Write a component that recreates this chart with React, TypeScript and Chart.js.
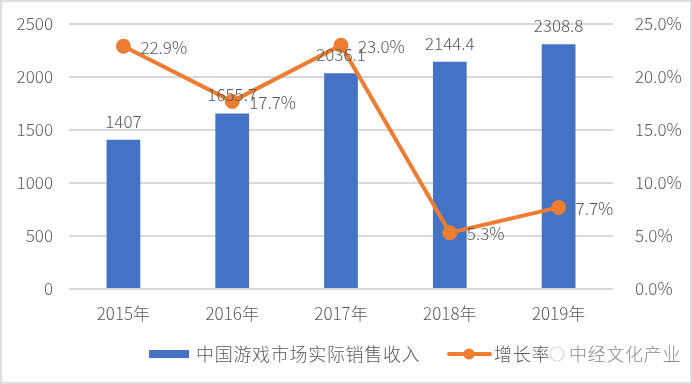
import React, { useEffect, useRef } from "react";
import { Chart, registerables } from "chart.js";

Chart.register(...registerables);

const categories = ["2015年", "2016年", "2017年", "2018年", "2019年"];
const revenue = [1407, 1655.7, 2036.1, 2144.4, 2308.8];
const growth = [22.9, 17.7, 23.0, 5.3, 7.7];
const revenueLabel = "中国游戏市场实际销售收入";
const growthLabel = "增长率";
const watermark = "中经文化产业";

const FONT = "'Noto Sans CJK SC', 'Noto Sans', sans-serif";
const TEXT = "#595959";
const BLUE = "#4472C4";
const ORANGE = "#ED7D31";
const CLEAR = "rgba(0,0,0,0)";

const customPlugin = {
  id: "custom",
  beforeDraw(chart: any) {
    const { ctx, width, height } = chart;
    ctx.save();
    ctx.fillStyle = "#ffffff";
    ctx.fillRect(0, 0, width, height);
    ctx.strokeStyle = "#dedede";
    ctx.lineWidth = 2;
    ctx.strokeRect(1, 1, width - 2, height - 2);
    ctx.restore();
  },
  afterDatasetsDraw(chart: any) {
    const { ctx } = chart;
    ctx.save();
    ctx.font = `300 17px ${FONT}`;
    ctx.fillStyle = TEXT;
    const barMeta = chart.getDatasetMeta(0);
    barMeta.data.forEach((el: any, i: number) => {
      ctx.textAlign = "center";
      ctx.textBaseline = "bottom";
      ctx.fillText(String(revenue[i]), el.x, el.y - 10);
    });
    const lineMeta = chart.getDatasetMeta(1);
    lineMeta.data.forEach((el: any, i: number) => {
      ctx.textAlign = "left";
      ctx.textBaseline = "middle";
      ctx.fillText(growth[i].toFixed(1) + "%", el.x + 17, el.y + 1);
    });
    ctx.restore();
  },
  afterDraw(chart: any) {
    const { ctx } = chart;
    const ds = chart.data.datasets;
    const y = 354;
    ctx.save();
    ctx.font = `300 18px ${FONT}`;
    (ctx as any).letterSpacing = "0.7px";
    ctx.textBaseline = "middle";
    ctx.textAlign = "left";
    ctx.fillStyle = ds[0].backgroundColor;
    ctx.fillRect(149, y - 4, 40, 8);
    ctx.fillStyle = TEXT;
    ctx.fillText(ds[0].label, 196, y);
    ctx.strokeStyle = ds[1].borderColor;
    ctx.lineWidth = 4;
    ctx.lineCap = "round";
    ctx.beginPath();
    ctx.moveTo(449, y);
    ctx.lineTo(490, y);
    ctx.stroke();
    ctx.fillStyle = ds[1].borderColor;
    ctx.beginPath();
    ctx.arc(469, y, 5.5, 0, Math.PI * 2);
    ctx.fill();
    ctx.fillStyle = TEXT;
    ctx.fillText(ds[1].label, 494, y);
    ctx.strokeStyle = "#d6d6d6";
    ctx.lineWidth = 1.2;
    ctx.beginPath();
    ctx.arc(557, y, 7, 0, Math.PI * 2);
    ctx.stroke();
    ctx.fillStyle = "#8a8a8a";
    ctx.fillText(watermark, 569, y);
    ctx.restore();
  },
};

export default function App() {
  const ref = useRef<HTMLCanvasElement>(null);
  useEffect(() => {
    document.body.style.margin = "0";
    const tickFont = { size: 17, family: FONT, weight: "300" as any };
    const chart = new Chart(ref.current!, {
      type: "bar",
      data: {
        labels: categories,
        datasets: [
          {
            type: "bar",
            label: revenueLabel,
            data: revenue,
            backgroundColor: BLUE,
            yAxisID: "y",
            barPercentage: 0.62,
            categoryPercentage: 0.5,
            order: 2,
          },
          {
            type: "line",
            label: growthLabel,
            data: growth,
            borderColor: ORANGE,
            backgroundColor: ORANGE,
            borderWidth: 4,
            pointRadius: 5.5,
            pointHoverRadius: 5.5,
            pointBackgroundColor: ORANGE,
            pointBorderColor: ORANGE,
            yAxisID: "y1",
            order: 1,
          },
        ] as any,
      },
      options: {
        animation: false,
        responsive: false,
        events: [],
        layout: { padding: { top: 24, bottom: 55, left: 0, right: 0 } },
        plugins: { legend: { display: false }, tooltip: { enabled: false } },
        scales: {
          x: {
            grid: { display: false },
            border: { display: false },
            ticks: { color: TEXT, font: tickFont, padding: 6 },
            afterFit(scale: any) {
              scale.height = 40;
            },
          },
          y: {
            position: "left",
            min: 0,
            max: 2500,
            ticks: {
              stepSize: 500,
              color: TEXT,
              font: tickFont,
              padding: 8,
              callback: (v: any) => String(v),
            },
            grid: { color: "#d9d9d9", lineWidth: 2, drawTicks: true, tickLength: 8, tickColor: CLEAR },
            border: { display: false },
            afterFit(scale: any) {
              scale.width = 69;
            },
          },
          y1: {
            position: "right",
            min: 0,
            max: 25,
            ticks: {
              stepSize: 5,
              color: TEXT,
              font: tickFont,
              padding: 12,
              callback: (v: any) => Number(v).toFixed(1) + "%",
            },
            grid: { display: true, color: CLEAR, drawOnChartArea: false, drawTicks: true, tickLength: 10, tickColor: CLEAR },
            border: { display: false },
            afterFit(scale: any) {
              scale.width = 79;
            },
          },
        },
      },
      plugins: [customPlugin],
    });
    return () => chart.destroy();
  }, []);
  return (
    <div style={{ width: 692, height: 384 }}>
      <canvas ref={ref} width={692} height={384} style={{ display: "block" }} />
    </div>
  );
}
